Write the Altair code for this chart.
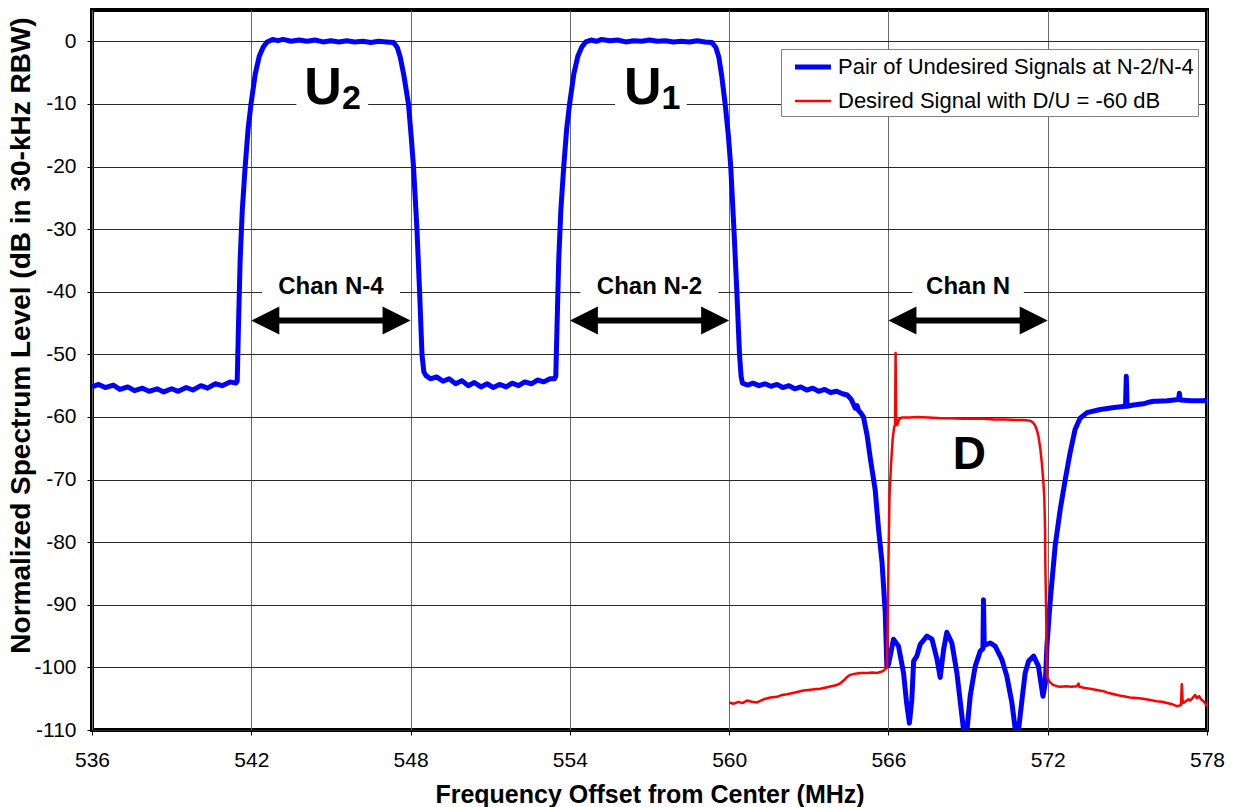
import altair as alt
import pandas as pd

# Blue trace: the pair of undesired signals (channels N-4 and N-2), MHz / dB
blue_mhz = [
    536.0, 536.25, 536.5, 536.8, 537.05, 537.35, 537.6, 537.9, 538.15, 538.45,
    538.7, 539.0, 539.25, 539.55, 539.8, 540.1, 540.35, 540.65, 540.9, 541.2,
    541.42, 541.47, 541.52, 541.58, 541.66, 541.77, 541.88, 541.99, 542.15, 542.3,
    542.45, 542.6, 542.8, 543.0, 543.2, 543.5, 543.8, 544.1, 544.4, 544.7,
    545.0, 545.3, 545.6, 545.9, 546.2, 546.5, 546.8, 547.1, 547.36, 547.5,
    547.61, 547.75, 547.92, 548.02, 548.11, 548.24, 548.34, 548.43, 548.5, 548.58,
    548.75, 548.98, 549.22, 549.45, 549.7, 549.93, 550.17, 550.4, 550.65, 550.88,
    551.12, 551.35, 551.6, 551.83, 552.07, 552.3, 552.55, 552.78, 553.02, 553.25,
    553.42, 553.47, 553.52, 553.58, 553.66, 553.77, 553.88, 553.99, 554.15, 554.3,
    554.45, 554.6, 554.8, 555.0, 555.2, 555.5, 555.8, 556.1, 556.4, 556.7,
    557.0, 557.3, 557.6, 557.9, 558.2, 558.5, 558.8, 559.1, 559.35, 559.5,
    559.61, 559.72, 559.85, 559.97, 560.06, 560.18, 560.29, 560.39, 560.45, 560.5,
    560.7, 560.9, 561.12, 561.35, 561.57, 561.8, 562.02, 562.25, 562.47, 562.7,
    562.92, 563.15, 563.37, 563.6, 563.82, 564.05, 564.27, 564.45, 564.6, 564.75,
    564.82, 564.88, 564.95, 565.06, 565.2, 565.31, 565.5, 565.63, 565.76, 565.88,
    565.94, 566.0, 566.19, 566.38, 566.57, 566.68, 566.79, 566.88, 566.95, 567.07,
    567.2, 567.45, 567.64, 567.83, 567.95, 568.08, 568.2, 568.39, 568.58, 568.77,
    568.83, 568.96, 569.08, 569.27, 569.46, 569.56, 569.58, 569.61, 569.83, 570.02,
    570.27, 570.46, 570.65, 570.78, 570.9, 571.03, 571.15, 571.28, 571.47, 571.65,
    571.82, 571.91, 571.97, 572.09, 572.28, 572.47, 572.66, 572.84, 573.03, 573.22,
    573.48, 573.98, 574.5, 574.93, 574.96, 574.99, 575.23, 575.6, 575.85, 575.99,
    576.1, 576.5, 576.93, 576.96, 576.99, 577.4, 577.87, 578.0,
]
blue_db = [
    -55.2, -54.8, -55.3, -54.9, -55.6, -55.2, -55.8, -55.4, -55.9, -55.5,
    -56.0, -55.5, -55.9, -55.3, -55.7, -55.0, -55.4, -54.7, -55.0, -54.4,
    -54.6, -54.3, -45.0, -35.0, -27.0, -20.0, -14.0, -10.0, -5.2, -2.4,
    -0.9, -0.1, 0.3, 0.1, 0.3, 0.0, 0.2, 0.0, 0.2, -0.1,
    0.1, -0.1, 0.1, -0.1, 0.0, -0.2, 0.0, -0.1, -0.2, -1.0,
    -2.5, -5.5, -10.0, -15.0, -20.0, -30.0, -40.0, -50.0, -52.8, -53.4,
    -53.9, -53.6, -54.3, -53.9, -54.7, -54.2, -55.0, -54.5, -55.2, -54.7,
    -55.3, -54.8, -55.2, -54.6, -55.0, -54.4, -54.7, -54.1, -54.4, -53.9,
    -53.9, -53.5, -45.0, -35.0, -27.0, -20.0, -14.0, -10.0, -5.2, -2.4,
    -0.9, -0.1, 0.2, 0.0, 0.3, 0.1, 0.2, -0.1, 0.1, 0.0,
    0.2, 0.0, 0.1, -0.1, 0.0, -0.1, 0.1, -0.1, -0.2, -1.0,
    -2.5, -5.5, -10.0, -15.0, -20.0, -30.0, -40.0, -50.0, -53.5, -54.6,
    -54.9, -54.6, -55.0, -54.7, -55.1, -54.8, -55.3, -55.0, -55.5, -55.2,
    -55.7, -55.4, -55.9, -55.6, -56.1, -55.9, -56.3, -56.5, -57.2, -58.6,
    -58.2, -59.0, -59.3, -60.0, -63.0, -66.4, -71.6, -78.0, -83.3, -91.3,
    -99.8, -99.6, -95.5, -96.6, -100.9, -105.5, -108.9, -105.2, -99.0, -98.2,
    -96.3, -95.0, -95.5, -98.7, -101.6, -97.1, -94.4, -96.1, -100.9, -107.8,
    -110.0, -110.0, -104.6, -99.8, -97.4, -97.0, -89.2, -96.5, -96.1, -96.6,
    -98.7, -101.4, -105.6, -110.0, -110.0, -105.2, -100.9, -99.0, -98.2, -99.8,
    -104.6, -102.5, -96.6, -89.6, -80.6, -74.8, -70.0, -65.8, -62.0, -60.2,
    -59.3, -58.8, -58.5, -58.3, -53.5, -58.3, -58.1, -57.9, -57.6, -57.5,
    -57.5, -57.4, -57.2, -56.2, -57.3, -57.4, -57.4, -57.3,
]

# Red trace: the desired signal in channel N
red_mhz = [
    560.0, 560.17, 560.35, 560.5, 560.67, 560.85, 561.05, 561.3, 561.55, 561.8,
    562.0, 562.18, 562.4, 562.6, 562.8, 563.0, 563.2, 563.43, 563.65, 563.85,
    564.06, 564.2, 564.31, 564.45, 564.56, 564.75, 564.94, 565.2, 565.4, 565.57,
    565.72, 565.82, 565.9, 565.94, 565.97, 566.0, 566.04, 566.1, 566.16, 566.21,
    566.25, 566.27, 566.29, 566.33, 566.4, 566.5, 566.8, 567.07, 567.5, 568.0,
    568.33, 568.8, 569.2, 569.58, 570.0, 570.4, 570.84, 571.1, 571.34, 571.45,
    571.53, 571.6, 571.65, 571.72, 571.78, 571.83, 571.87, 571.9, 571.91, 571.95,
    571.97, 572.03, 572.09, 572.2, 572.35, 572.47, 572.7, 572.9, 573.1, 573.16,
    573.2, 573.4, 573.6, 573.85, 574.1, 574.3, 574.5, 574.7, 574.86, 575.1,
    575.35, 575.6, 575.86, 576.1, 576.3, 576.49, 576.7, 576.87, 576.95, 577.02,
    577.05, 577.08, 577.11, 577.2, 577.3, 577.36, 577.45, 577.55, 577.62, 577.7,
    577.8, 577.87, 577.94, 578.0,
]
red_db = [
    -105.6, -105.8, -105.5, -105.7, -105.3, -105.5, -105.6, -105.1, -104.8, -104.7,
    -104.4, -104.3, -104.1, -103.9, -103.7, -103.6, -103.5, -103.4, -103.2, -103.0,
    -102.8, -102.5, -102.1, -101.5, -101.2, -101.0, -100.9, -100.9, -100.8, -100.9,
    -100.7, -100.5, -100.2, -100.0, -93.9, -83.3, -72.7, -67.5, -63.5, -61.8,
    -61.2, -49.8, -61.0, -61.3, -60.4, -60.1, -60.1, -60.0, -60.1, -60.2,
    -60.2, -60.3, -60.3, -60.3, -60.4, -60.4, -60.5, -60.5, -60.6, -60.9,
    -61.4, -62.2, -63.1, -65.0, -67.4, -70.0, -72.7, -78.0, -83.3, -93.9,
    -101.4, -102.0, -102.4, -102.8, -103.0, -103.1, -103.0, -103.1, -103.0, -102.6,
    -103.1, -103.3, -103.4, -103.6, -103.8, -104.1, -104.3, -104.5, -104.6, -104.8,
    -104.9, -105.0, -105.2, -105.4, -105.5, -105.7, -105.9, -106.2, -106.1, -106.0,
    -102.7, -105.2, -105.7, -105.4, -105.1, -105.3, -104.9, -104.4, -104.9, -104.6,
    -105.2, -105.4, -105.8, -106.2,
]

series_names = ["Pair of Undesired Signals at N-2/N-4", "Desired Signal with D/U = -60 dB"]
series_colors = ["#0000FF", "#FF0000"]
series_widths = [5, 2.5]

x_ticks = [536, 542, 548, 554, 560, 566, 572, 578]
y_ticks = [0, -10, -20, -30, -40, -50, -60, -70, -80, -90, -100, -110]

# Channel annotations: label, channel edges, label centre
chan_labels = ["Chan N-4", "Chan N-2", "Chan N"]
chan_lo = [542, 554, 566]
chan_hi = [548, 560, 572]
chan_mid = [545, 557, 569]
chan_box_half = [2.6, 2.6, 2.1]
chan_label_db = -40.3
chan_arrow_db = -44.6

# Signal names drawn on the spectrum
sig_main = ["U", "U"]
sig_main_x = [544.7, 556.75]
sig_sub = ["2", "1"]
sig_sub_x = [545.42, 557.45]
sig_box_lo = [543.7, 555.7]
sig_box_hi = [546.4, 558.4]
sig_db = -10.0
d_label_x = 569.05
d_label_db = -68.3

FONT = "Liberation Sans"

spectrum = pd.concat([
    pd.DataFrame({"mhz": blue_mhz, "db": blue_db, "series": series_names[0]}),
    pd.DataFrame({"mhz": red_mhz, "db": red_db, "series": series_names[1]}),
])

chan_df = pd.DataFrame({
    "label": chan_labels,
    "lo": chan_lo,
    "hi": chan_hi,
    "mid": chan_mid,
    "box_lo": [m - h for m, h in zip(chan_mid, chan_box_half)],
    "box_hi": [m + h for m, h in zip(chan_mid, chan_box_half)],
    "shaft_lo": [v + 0.9 for v in chan_lo],
    "shaft_hi": [v - 0.9 for v in chan_hi],
    "label_db": chan_label_db,
    "arrow_db": chan_arrow_db,
    "box_top": chan_label_db + 4.0,
    "box_bot": chan_label_db - 1.2,
})

sig_df = pd.DataFrame({
    "main": sig_main, "main_x": sig_main_x,
    "sub": sig_sub, "sub_x": sig_sub_x,
    "box_lo": sig_box_lo, "box_hi": sig_box_hi,
    "db": sig_db, "box_top": sig_db + 6.5, "box_bot": sig_db - 1.5,
})
d_df = pd.DataFrame({"label": ["D"], "mhz": [d_label_x], "db": [d_label_db]})

x_scale = alt.Scale(domain=[536, 578], nice=False, zero=False)
y_scale = alt.Scale(domain=[-110, 5], nice=False, zero=False)
# plain ASCII hyphen for negative tick labels
x_axis = alt.Axis(values=x_ticks, labelExpr="datum.value + ''", gridColor="#6a6a6a",
                  labelPadding=14, labelFlush=False, labelOverlap=False,
                  titleY=72, titleBaseline="alphabetic")
y_axis = alt.Axis(values=y_ticks, labelExpr="datum.value + ''", gridColor="#2a2a2a",
                  labelPadding=11, labelFlush=False, labelOverlap=False,
                  titleX=-63, titleY=325, titleBaseline="alphabetic", titleFontSize=28)
X_TITLE = "Frequency Offset from Center (MHz)"
Y_TITLE = "Normalized Spectrum Level (dB in 30-kHz RBW)"


def xq(field):
    return alt.X(f"{field}:Q", scale=x_scale, axis=x_axis, title=X_TITLE)


def yq(field):
    return alt.Y(f"{field}:Q", scale=y_scale, axis=y_axis, title=Y_TITLE)


# Legend swatch: a horizontal stroke wider than its nominal symbol box,
# so the rows stay as tight as the label text
legend = alt.Legend(
    title=None, orient="none", legendX=689, legendY=39,
    symbolType="M -1.6 0 L 1.6 0", symbolSize=506, symbolOffset=14, labelOffset=11,
    labelFontSize=22, labelFont=FONT, labelColor="black", rowPadding=10.5, padding=4,
    strokeColor="#808080", fillColor="white", labelLimit=500,
)
color_enc = alt.Color("series:N", scale=alt.Scale(domain=series_names, range=series_colors), legend=legend)
width_enc = alt.StrokeWidth("series:N", scale=alt.Scale(domain=series_names, range=series_widths), legend=legend)

# White backing boxes that hide the grid behind the annotations
chan_boxes = alt.Chart(chan_df).mark_rect(color="white").encode(
    x=xq("box_lo"), x2="box_hi", y=yq("box_top"), y2="box_bot")
sig_boxes = alt.Chart(sig_df).mark_rect(color="white").encode(
    x=xq("box_lo"), x2="box_hi", y=yq("box_top"), y2="box_bot")

blue_line = alt.Chart(spectrum).transform_filter(
    alt.datum.series == series_names[0]
).mark_line(clip=True, strokeJoin="round").encode(
    x=xq("mhz"), y=yq("db"), color=color_enc, strokeWidth=width_enc, order="mhz:Q")
red_line = alt.Chart(spectrum).transform_filter(
    alt.datum.series == series_names[1]
).mark_line(clip=True, strokeJoin="round").encode(
    x=xq("mhz"), y=yq("db"), color=color_enc, strokeWidth=width_enc, order="mhz:Q")

shafts = alt.Chart(chan_df).mark_rule(color="black", strokeWidth=6).encode(
    x=xq("shaft_lo"), x2="shaft_hi", y=yq("arrow_db"))
heads_right = alt.Chart(chan_df).mark_point(
    shape="M 0 0 L -2 -1 L -2 1 Z", size=784, filled=True, color="black", opacity=1, strokeWidth=0
).encode(x=xq("hi"), y=yq("arrow_db"))
heads_left = alt.Chart(chan_df).mark_point(
    shape="M 0 0 L 2 -1 L 2 1 Z", size=784, filled=True, color="black", opacity=1, strokeWidth=0
).encode(x=xq("lo"), y=yq("arrow_db"))

chan_text = alt.Chart(chan_df).mark_text(
    font=FONT, fontSize=24, fontWeight="bold", color="black", baseline="alphabetic", align="center"
).encode(x=xq("mid"), y=yq("label_db"), text="label:N")

sig_main_text = alt.Chart(sig_df).mark_text(
    font=FONT, fontSize=52, fontWeight="bold", color="black", baseline="alphabetic", align="center"
).encode(x=xq("main_x"), y=yq("db"), text="main:N")
sig_sub_text = alt.Chart(sig_df).mark_text(
    font=FONT, fontSize=34, fontWeight="bold", color="black", baseline="alphabetic", align="left", dy=5
).encode(x=xq("sub_x"), y=yq("db"), text="sub:N")
d_text = alt.Chart(d_df).mark_text(
    font=FONT, fontSize=46, fontWeight="bold", color="black", baseline="alphabetic", align="center"
).encode(x=xq("mhz"), y=yq("db"), text="label:N")

chart = alt.layer(
    chan_boxes, sig_boxes, blue_line, red_line, shafts, heads_right, heads_left,
    chan_text, sig_main_text, sig_sub_text, d_text,
).properties(
    width=1115, height=720,
    autosize=alt.AutoSizeParams(type="none"),
    padding={"left": 92, "top": 10, "right": 27, "bottom": 77},
    background="white",
).configure_view(
    stroke="black", strokeWidth=4
).configure_axis(
    domain=False, grid=True, gridWidth=1, tickColor="black", tickSize=5, tickWidth=1,
    labelFont=FONT, labelFontSize=21, labelColor="black",
    titleFont=FONT, titleFontSize=25, titleFontWeight="bold", titleColor="black",
)

chart.save("out.html", embed_options={"renderer": "svg", "actions": False})
